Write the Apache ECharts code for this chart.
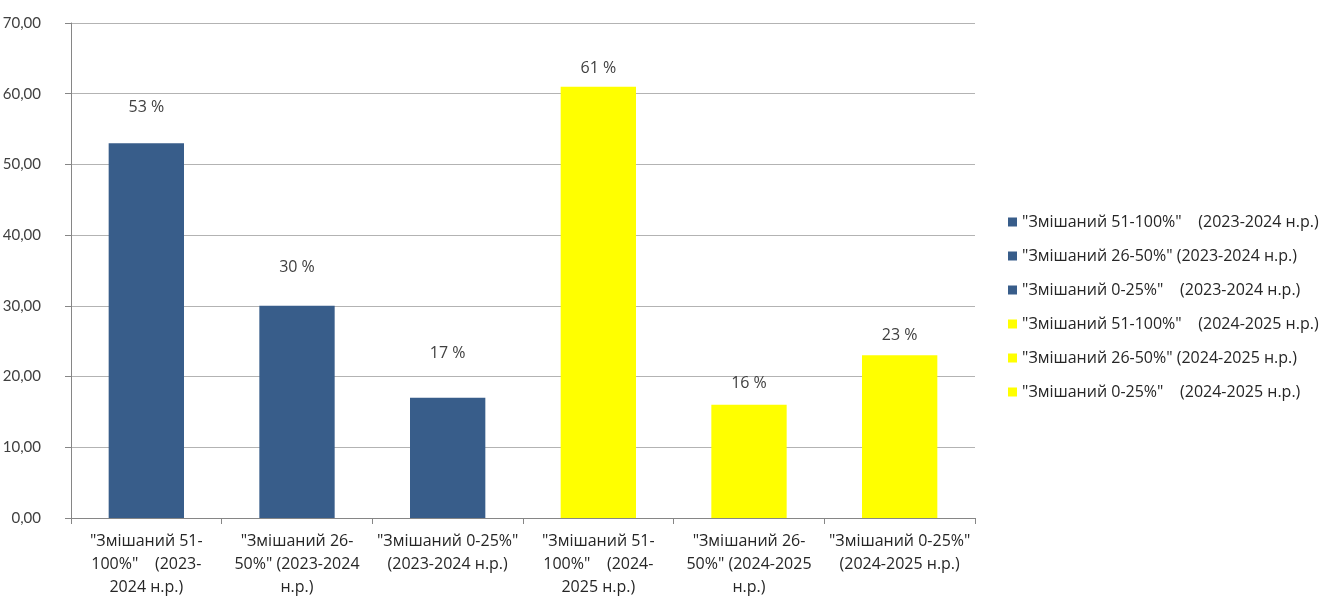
<!DOCTYPE html>
<html>
<head>
<meta charset="utf-8">
<script src="https://cdn.jsdelivr.net/npm/echarts@6/dist/echarts.min.js"></script>
<style>
  html, body { margin: 0; padding: 0; background: #ffffff; }
  #chart { width: 1340px; height: 596px; }
</style>
</head>
<body>
<div id="chart"></div>
<script>
  // назви для легенди
  const seriesNames = [
    '"Змішаний 51-100%"    (2023-2024 н.р.)',
    '"Змішаний 26-50%" (2023-2024 н.р.)',
    '"Змішаний 0-25%"    (2023-2024 н.р.)',
    '"Змішаний 51-100%"    (2024-2025 н.р.)',
    '"Змішаний 26-50%" (2024-2025 н.р.)',
    '"Змішаний 0-25%"    (2024-2025 н.р.)'
  ];
  // підписи осі X (з переносами як на малюнку)
  const categories = [
    '"Змішаний 51-\n100%"    (2023-\n2024 н.р.)',
    '"Змішаний 26-\n50%" (2023-2024\nн.р.)',
    '"Змішаний 0-25%"\n(2023-2024 н.р.)',
    '"Змішаний 51-\n100%"    (2024-\n2025 н.р.)',
    '"Змішаний 26-\n50%" (2024-2025\nн.р.)',
    '"Змішаний 0-25%"\n(2024-2025 н.р.)'
  ];
  const values = [53, 30, 17, 61, 16, 23];
  const barColors = ['#385D8A', '#385D8A', '#385D8A', '#FFFF00', '#FFFF00', '#FFFF00'];
  const labelGap = [28, 30, 36, 10, 13, 12];

  const font = '"Open Sans", Lato, sans-serif';
  const numFont = 'Lato, "Open Sans", sans-serif';

  let chart = echarts.init(document.getElementById('chart'));
  chart.setOption({
    animation: false,
    textStyle: { fontFamily: font },
    grid: { left: 71, right: 365, top: 23, bottom: 78, containLabel: false, outerBoundsMode: 'none' },
    legend: {
      orient: 'vertical',
      left: 1003,
      top: 209,
      itemGap: 18,
      itemWidth: 9,
      itemHeight: 9,
      icon: 'rect',
      data: seriesNames,
      textStyle: { fontSize: 16, color: '#262626', fontFamily: font }
    },
    xAxis: {
      type: 'category',
      data: categories,
      axisLine: { lineStyle: { color: '#868686' } },
      axisTick: { show: true, length: 6, lineStyle: { color: '#868686' } },
      axisLabel: {
        interval: 0,
        margin: 12,
        fontSize: 16,
        lineHeight: 23,
        color: '#262626',
        fontFamily: font
      }
    },
    yAxis: {
      type: 'value',
      min: 0,
      max: 70,
      interval: 10,
      axisLine: { show: true, lineStyle: { color: '#868686' } },
      axisTick: { show: true, inside: false, length: 6, lineStyle: { color: '#868686' } },
      splitLine: { lineStyle: { color: '#B3B3B3' } },
      axisLabel: {
        margin: 30,
        fontSize: 15,
        color: '#404040',
        fontFamily: numFont,
        formatter: function (v) { return v.toFixed(2).replace('.', ','); }
      }
    },
    series: seriesNames.map(function (name, i) {
      return {
        name: name,
        type: 'bar',
        stack: 'all',
        barWidth: '50%',
        itemStyle: { color: barColors[i] },
        label: {
          show: true,
          position: 'top',
          distance: labelGap[i],
          fontSize: 16,
          color: '#404040',
          fontFamily: font,
          formatter: function (p) { return p.value + ' %'; }
        },
        data: values.map(function (v, j) { return j === i ? v : '-'; })
      };
    })
  });
</script>
</body>
</html>
